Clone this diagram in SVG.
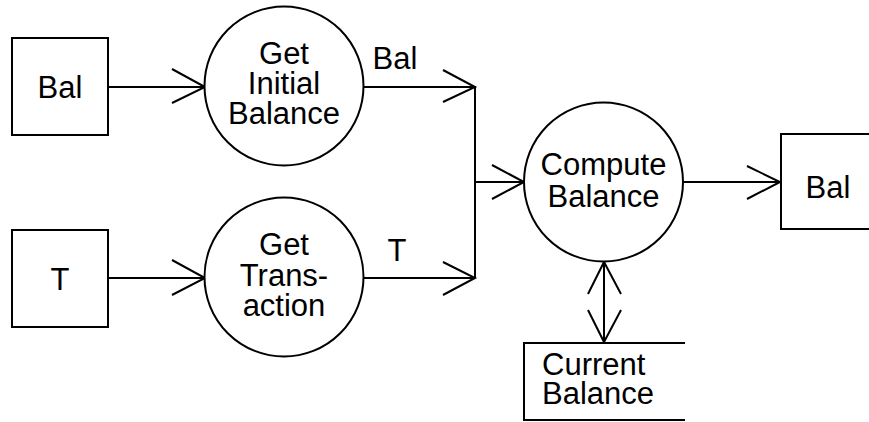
<svg xmlns="http://www.w3.org/2000/svg" width="869" height="422" viewBox="0 0 869 422">
<style>
.s{fill:#fff;stroke:#000;stroke-width:2}
.l{fill:none;stroke:#000;stroke-width:2}
text{font-family:"Liberation Sans",Arial,sans-serif;font-size:31px;fill:#000;text-anchor:middle}
</style>
<rect width="869" height="422" fill="#fff"/>
<g id="connectors" class="l">
<path d="M108,87H205M172,69L205,87L172,103"/>
<path d="M363,87H475V278M443,70L475,87L443,102"/>
<path d="M108,278H205M172,260L205,278L172,295"/>
<path d="M363,278H475M443,262L475,278L443,295"/>
<path d="M475,182H524M492,165L524,182L492,199"/>
<path d="M683,182H780M747,166L780,182L747,199"/>
<path d="M604,262V342M588,294L604,262L621,294M588,310L604,342L621,310"/>
</g>
<g id="bal_in"><rect class="s" x="12" y="38" width="96" height="97"/><text x="60" y="98">Bal</text></g>
<g id="t_in"><rect class="s" x="12" y="230" width="96" height="97"/><text x="60" y="290">T</text></g>
<g id="get_initial"><circle class="s" cx="284" cy="86" r="79.5"/><text x="284" y="64">Get</text><text x="284" y="94">Initial</text><text x="284" y="124">Balance</text></g>
<g id="get_trans"><circle class="s" cx="284" cy="277" r="79.5"/><text x="284" y="255">Get</text><text x="284" y="286">Trans-</text><text x="284" y="316">action</text></g>
<g id="compute"><circle class="s" cx="603.5" cy="182" r="79.5"/><text x="603.5" y="175">Compute</text><text x="603.5" y="207">Balance</text></g>
<g id="bal_out"><rect class="s" x="781" y="134" width="100" height="95"/><text x="828" y="198">Bal</text></g>
<g id="store"><path class="l" d="M685,343H524V420H685"/><text x="542" y="375" style="text-anchor:start">Current</text><text x="542" y="404" style="text-anchor:start">Balance</text></g>
<g id="labels"><text x="395" y="69">Bal</text><text x="397" y="261">T</text></g>
</svg>
